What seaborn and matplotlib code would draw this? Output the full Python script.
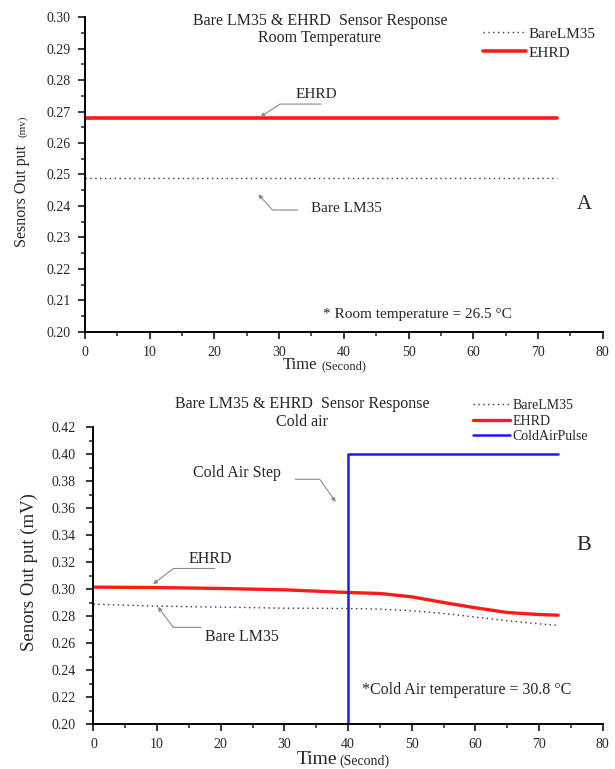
import numpy as np
import pandas as pd
import matplotlib
matplotlib.use("Agg")
import matplotlib.pyplot as plt
from matplotlib.ticker import MultipleLocator
import seaborn as sns

# Panel A: room temperature
time_a = [0, 73]
bare_a = [0.249, 0.249]
ehrd_a = [0.268, 0.268]

# Panel B: cold air
time_b = [0, 10, 20, 30, 40, 45, 50, 55, 60, 65, 70, 73]
ehrd_b = [0.3014, 0.3011, 0.3004, 0.2994, 0.2974, 0.2967, 0.2942, 0.2900, 0.2861, 0.2826, 0.2811, 0.2806]
bare_b = [0.2888, 0.2873, 0.2866, 0.2858, 0.2856, 0.2851, 0.2839, 0.2819, 0.2792, 0.2765, 0.2742, 0.2730]
pulse_time = [0, 40, 40, 73]
pulse_b = [0.0, 0.0, 0.40, 0.40]

sns.set_style("ticks")
plt.rcParams['font.family'] = ['Liberation Serif', 'DejaVu Serif']

BARE_STYLE = dict(color='#333333', lw=1.0, linestyle=(0, (1, 2.5)))
ARROW = dict(arrowstyle='-|>', color='#8a8a8a', lw=0.8, mutation_scale=6, shrinkA=0, shrinkB=0)

fig = plt.figure(figsize=(6.15, 7.69), dpi=100)
ax_a = fig.add_axes([0.138, 0.5687, 0.842, 0.4088])
ax_b = fig.add_axes([0.152, 0.0585, 0.828, 0.3862])


def style_axes(ax, ymin, ymax, ymaj, ymin_step):
    ax.set_xlim(0, 80)
    ax.set_ylim(ymin, ymax)
    ax.xaxis.set_major_locator(MultipleLocator(10))
    ax.xaxis.set_minor_locator(MultipleLocator(5))
    ax.yaxis.set_major_locator(MultipleLocator(ymaj))
    ax.yaxis.set_minor_locator(MultipleLocator(ymin_step))
    ax.yaxis.set_major_formatter(matplotlib.ticker.FormatStrFormatter('%.2f'))
    for side in ['top', 'right']:
        ax.spines[side].set_visible(False)
    for side in ['left', 'bottom']:
        ax.spines[side].set_linewidth(1.4)
        ax.spines[side].set_color('black')
    ax.tick_params(which='major', direction='out', length=5, width=1.3, labelsize=10, pad=5)
    ax.tick_params(which='minor', direction='out', length=3, width=1.1)
    ax.set_xlabel('')
    ax.set_ylabel('')


# ---- Panel A ----
sns.lineplot(x=time_a, y=bare_a, ax=ax_a, label='BareLM35', **BARE_STYLE)
sns.lineplot(x=time_a, y=ehrd_a, ax=ax_a, label='EHRD', color='#ff1a1a', lw=2.6)
style_axes(ax_a, 0.20, 0.30, 0.01, 0.005)

ax_a.legend(loc='upper left', bbox_to_anchor=(0.785, 0.965), bbox_transform=fig.transFigure,
            frameon=False, fontsize=11, handlelength=2.8, handletextpad=0.2,
            labelspacing=0.35, borderpad=0, borderaxespad=0)

fig.text(0.520, 0.973, 'Bare LM35 & EHRD  Sensor Response', ha='center', va='center', fontsize=11.5)
fig.text(0.520, 0.951, 'Room Temperature', ha='center', va='center', fontsize=11.5)

ax_a.text(35.7, 0.2755, 'EHRD', ha='center', va='center', fontsize=11)
ax_a.annotate('', xy=(27.1, 0.2683), xytext=(36.5, 0.2724),
              arrowprops=dict(connectionstyle='angle,angleA=0,angleB=33,rad=0', **ARROW))
ax_a.text(34.9, 0.2392, 'Bare LM35', ha='left', va='center', fontsize=11)
ax_a.annotate('', xy=(26.8, 0.2437), xytext=(32.9, 0.2387),
              arrowprops=dict(connectionstyle='angle,angleA=0,angleB=-48,rad=0', **ARROW))
ax_a.text(77.1, 0.2406, 'A', ha='center', va='center', fontsize=15)
ax_a.text(36.8, 0.2056, '* Room temperature = 26.5 °C', ha='left', va='center', fontsize=11)

fig.text(0.035, 1 - 196 / 769, 'Sesnors Out put', rotation=90, ha='center', va='center', fontsize=11.5)
fig.text(0.037, 1 - 126 / 769, '(mv)', rotation=90, ha='center', va='center', fontsize=8)
fig.text(317 / 615, 1 - 365 / 769, 'Time', ha='right', va='center', fontsize=12)
fig.text(322 / 615, 1 - 366 / 769, '(Second)', ha='left', va='center', fontsize=9)

# ---- Panel B ----
sns.lineplot(x=time_b, y=bare_b, ax=ax_b, label='BareLM35', **BARE_STYLE)
sns.lineplot(x=time_b, y=ehrd_b, ax=ax_b, label='EHRD', color='#ff1a1a', lw=2.4)
sns.lineplot(x=pulse_time, y=pulse_b, ax=ax_b, label='ColdAirPulse', color='#1a1aff', lw=1.8,
             sort=False, estimator=None)
style_axes(ax_b, 0.20, 0.42, 0.02, 0.01)
ax_b.tick_params(axis='y', which='major', pad=8)

ax_b.legend(loc='upper left', bbox_to_anchor=(0.769, 0.481), bbox_transform=fig.transFigure,
            frameon=False, fontsize=10, handlelength=2.7, handletextpad=0.15,
            labelspacing=0.18, borderpad=0, borderaxespad=0)

fig.text(0.491, 1 - 404 / 769, 'Bare LM35 & EHRD  Sensor Response', ha='center', va='center', fontsize=11.5)
fig.text(0.491, 1 - 421.7 / 769, 'Cold air', ha='center', va='center', fontsize=11.5)

ax_b.text(22.6, 0.3863, 'Cold Air Step', ha='center', va='center', fontsize=11.5)
ax_b.annotate('', xy=(38.05, 0.3645), xytext=(31.7, 0.3813),
              arrowprops=dict(connectionstyle='angle,angleA=0,angleB=125,rad=0', **ARROW))
ax_b.text(18.3, 0.3221, 'EHRD', ha='center', va='center', fontsize=11.5)
ax_b.annotate('', xy=(9.36, 0.3036), xytext=(19.06, 0.3152),
              arrowprops=dict(connectionstyle='angle,angleA=0,angleB=37.6,rad=0', **ARROW))
ax_b.text(17.5, 0.2646, 'Bare LM35', ha='left', va='center', fontsize=11.5)
ax_b.annotate('', xy=(10.1, 0.2868), xytext=(16.9, 0.2716),
              arrowprops=dict(connectionstyle='angle,angleA=0,angleB=-52.7,rad=0', **ARROW))
ax_b.text(77.1, 0.3325, 'B', ha='center', va='center', fontsize=16)
ax_b.text(42.2, 0.2252, '*Cold Air temperature = 30.8 °C', ha='left', va='center', fontsize=11.5)

fig.text(0.048, 1 - 572 / 769, 'Senors Out put (mV)', rotation=90, ha='center', va='center', fontsize=13.5)
fig.text(337 / 615, 1 - 760 / 769, 'Time', ha='right', va='center', fontsize=14)
fig.text(339 / 615, 1 - 761 / 769, '(Second)', ha='left', va='center', fontsize=10)

fig.savefig('out.png', dpi=100)
